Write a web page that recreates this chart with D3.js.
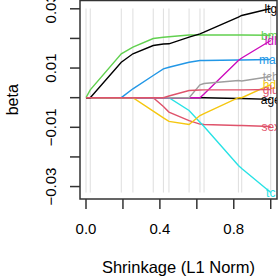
<!DOCTYPE html>
<html>
<head>
<meta charset="utf-8">
<script src="https://cdn.jsdelivr.net/npm/d3@7"></script>
<style>
  body { margin: 0; background: #ffffff; }
  svg { display: block; font-family: "Liberation Sans", Arial, sans-serif; }
</style>
</head>
<body>
<svg id="chart" width="279" height="279"></svg>
<script>
// L1 norm fraction at each step of the path
var steps = [0, 0.023, 0.191, 0.254, 0.364, 0.419, 0.449, 0.558, 0.617, 0.639, 0.825, 0.843, 1.0];

var varNames = ["age", "sex", "bmi", "map", "tc", "ldl", "hdl", "tch", "ltg", "glu"];
var varColors = ["#000000", "#DF536B", "#61D04F", "#2297E6", "#28E2E5", "#CD0BBC", "#F5C710", "#9E9E9E", "#000000", "#DF536B"];

var age = [0, 0, 0, 0, 0, 0, 0, 0, 0, 0, -0.0003, -0.0003, -0.00056];
var sex = [0, 0, 0, 0, 0, -0.0030, -0.00485, -0.00772, -0.0089, -0.00907, -0.0094, -0.0094, -0.00974];
var bmi = [0, 0.00265, 0.01481, 0.01703, 0.01997, 0.02041, 0.02055, 0.02115, 0.02115, 0.02115, 0.02115, 0.02115, 0.02105];
var map = [0, 0, 0, 0.00299, 0.00748, 0.00974, 0.01028, 0.01197, 0.01254, 0.01254, 0.01271, 0.01271, 0.01288];
var tc  = [0, 0, 0, 0, 0, 0, 0, -0.00434, -0.00829, -0.00974, -0.02291, -0.02392, -0.03202];
var ldl = [0, 0, 0, 0, 0, 0, 0, 0, 0, 0.00123, 0.01254, 0.01339, 0.0193];
var hdl = [0, 0, 0, 0, -0.00454, -0.0068, -0.00799, -0.00907, -0.00603, -0.00535, 0, 0, 0.00444];
var tch = [0, 0, 0, 0, 0, 0, 0, 0, 0.00434, 0.00478, 0.00579, 0.00562, 0.00714];
var ltg = [0, 0, 0.01197, 0.01481, 0.01761, 0.01812, 0.01818, 0.02041, 0.02156, 0.0221, 0.02716, 0.02774, 0.0301];
var glu = [0, 0, 0, 0, 0, 0, 0.00056, 0.00241, 0.00258, 0.00265, 0.00265, 0.00265, 0.00275];

var xTicks = [0, 0.2, 0.4, 0.6, 0.8, 1.0];
var xTickLabels = ["0.0", "", "0.4", "", "0.8", ""];
var yTicks = [0.03, 0.02, 0.01, 0, -0.01, -0.02, -0.03];
var yTickLabels = ["0.03", "", "0.01", "", "\u22120.01", "", "\u22120.03"];

var coefs = [age, sex, bmi, map, tc, ldl, hdl, tch, ltg, glu];

var plot = { left: 80, right: 277, top: 0.5, bottom: 199 };

var x = d3.scaleLinear().domain([-0.0325, 1.034]).range([plot.left, plot.right]);
var y = d3.scaleLinear().domain([-0.0342, 0.0328]).range([plot.bottom, plot.top]);

var svg = d3.select("#chart");

svg.append("defs").append("clipPath")
    .attr("id", "plotclip")
    .append("rect")
    .attr("x", plot.left)
    .attr("y", plot.top)
    .attr("width", plot.right - plot.left)
    .attr("height", plot.bottom - plot.top);

var all = d3.merge(coefs);
var ymax = d3.max(all), ymin = d3.min(all);

// vertical lines at each step
svg.append("g").selectAll("line")
    .data(steps)
    .enter().append("line")
    .attr("x1", function(d) { return x(d); })
    .attr("x2", function(d) { return x(d); })
    .attr("y1", y(ymax))
    .attr("y2", y(ymin))
    .attr("stroke", "#dedede")
    .attr("stroke-width", 1);

var line = d3.line()
    .x(function(d, i) { return x(steps[i]); })
    .y(function(d) { return y(d); });

var paths = svg.append("g").attr("clip-path", "url(#plotclip)");

coefs.forEach(function(c, k) {
    paths.append("path")
        .attr("d", line(c))
        .attr("fill", "none")
        .attr("stroke", varColors[k])
        .attr("stroke-width", 1.4);
});

// variable names at the right end (clipped by the box, as in the original)
coefs.forEach(function(c, k) {
    paths.append("text")
        .attr("x", x(1))
        .attr("y", y(c[c.length - 1]))
        .attr("dy", "0.35em")
        .attr("text-anchor", "middle")
        .attr("font-size", 12)
        .attr("fill", varColors[k])
        .text(varNames[k]);
});

// box
svg.append("rect")
    .attr("x", plot.left)
    .attr("y", plot.top)
    .attr("width", plot.right - plot.left)
    .attr("height", plot.bottom - plot.top)
    .attr("fill", "none")
    .attr("stroke", "#333")
    .attr("stroke-width", 1.5);

// x axis
var gx = svg.append("g");
gx.selectAll("line")
    .data(xTicks)
    .enter().append("line")
    .attr("x1", function(d) { return x(d); })
    .attr("x2", function(d) { return x(d); })
    .attr("y1", plot.bottom)
    .attr("y2", plot.bottom + 10)
    .attr("stroke", "#333")
    .attr("stroke-width", 1.5);
gx.selectAll("text")
    .data(xTicks)
    .enter().append("text")
    .attr("x", function(d) { return x(d); })
    .attr("y", 234)
    .attr("text-anchor", "middle")
    .attr("font-size", 15)
    .text(function(d, i) { return xTickLabels[i]; });

// y axis
var gy = svg.append("g");
gy.selectAll("line")
    .data(yTicks)
    .enter().append("line")
    .attr("x1", plot.left)
    .attr("x2", plot.left - 10)
    .attr("y1", function(d) { return y(d); })
    .attr("y2", function(d) { return y(d); })
    .attr("stroke", "#333")
    .attr("stroke-width", 1.5);
gy.selectAll("text")
    .data(yTicks)
    .enter().append("text")
    .attr("transform", function(d) { return "translate(56," + y(d) + ") rotate(-90)"; })
    .attr("text-anchor", "middle")
    .attr("font-size", 15)
    .text(function(d, i) { return yTickLabels[i]; });

// axis titles
svg.append("text")
    .attr("x", (plot.left + plot.right) / 2)
    .attr("y", 273)
    .attr("text-anchor", "middle")
    .attr("font-size", 16.5)
    .text("Shrinkage (L1 Norm)");

svg.append("text")
    .attr("transform", "translate(18," + (plot.top + plot.bottom) / 2 + ") rotate(-90)")
    .attr("text-anchor", "middle")
    .attr("font-size", 16)
    .text("beta");
</script>
</body>
</html>
